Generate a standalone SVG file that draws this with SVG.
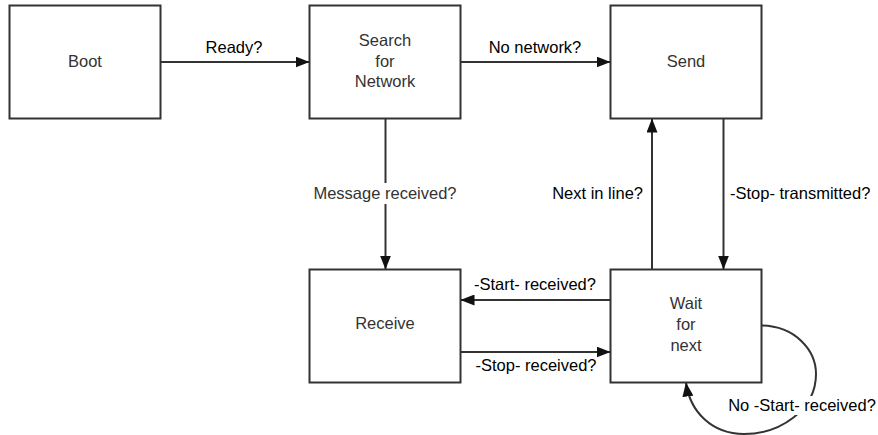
<svg xmlns="http://www.w3.org/2000/svg" width="878" height="435" viewBox="0 0 878 435">
  <style>
    .box { fill: #ffffff; stroke: #333333; stroke-width: 2; }
    .name { font-family: "Liberation Sans", Arial, sans-serif; font-size: 16.5px; fill: #333333; text-anchor: middle; }
    .edge { fill: none; stroke: #333333; stroke-width: 2; }
    .lbl { font-family: "Liberation Sans", Arial, sans-serif; font-size: 16.5px; fill: #000000; }
    .bg { fill: #ffffff; }
  </style>
  <defs>
    <marker id="arrow" markerUnits="userSpaceOnUse" markerWidth="14" markerHeight="11" refX="14" refY="5.5" orient="auto">
      <path d="M0,0 L14,5.5 L0,11 z" fill="#111111"/>
    </marker>
  </defs>
  <rect width="878" height="435" fill="#ffffff"/>

  <!-- state boxes -->
  <g id="boot">
    <rect class="box" x="9.5" y="5.5" width="151" height="113"/>
    <text class="name" x="85" y="67">Boot</text>
  </g>
  <g id="search">
    <rect class="box" x="309.5" y="5.5" width="151" height="113"/>
    <text class="name" x="385" y="46">Search</text>
    <text class="name" x="385" y="66.5">for</text>
    <text class="name" x="385" y="87">Network</text>
  </g>
  <g id="send">
    <rect class="box" x="610.5" y="5.5" width="151" height="113"/>
    <text class="name" x="686" y="67">Send</text>
  </g>
  <g id="receive">
    <rect class="box" x="309.5" y="269.5" width="151" height="113"/>
    <text class="name" x="385" y="329">Receive</text>
  </g>
  <g id="wait">
    <rect class="box" x="610.5" y="269.5" width="151" height="113"/>
    <text class="name" x="686" y="309">Wait</text>
    <text class="name" x="686" y="330">for</text>
    <text class="name" x="686" y="350.5">next</text>
  </g>

  <!-- transitions -->
  <g id="connectors">
    <path class="edge" d="M160.5,62 L309.5,62" marker-end="url(#arrow)"/>
    <text class="lbl" x="234" y="52.5" text-anchor="middle">Ready?</text>

    <path class="edge" d="M460.5,62 L610.5,62" marker-end="url(#arrow)"/>
    <text class="lbl" x="535" y="52.5" text-anchor="middle">No network?</text>

    <path class="edge" d="M385.5,118.5 L385.5,269.5" marker-end="url(#arrow)"/>
    <rect class="bg" x="312" y="183" width="147" height="21"/>
    <text class="lbl" x="385" y="198.5" text-anchor="middle" fill="#333333" style="fill:#333333">Message received?</text>

    <path class="edge" d="M652,269.5 L652,118.5" marker-end="url(#arrow)"/>
    <text class="lbl" x="643" y="198.5" text-anchor="end">Next in line?</text>

    <path class="edge" d="M723.5,118.5 L723.5,269.5" marker-end="url(#arrow)"/>
    <text class="lbl" x="730" y="198.5">-Stop- transmitted?</text>

    <path class="edge" d="M610.5,300 L460.5,300" marker-end="url(#arrow)"/>
    <text class="lbl" x="535" y="290" text-anchor="middle">-Start- received?</text>

    <path class="edge" d="M460.5,352 L610.5,352" marker-end="url(#arrow)"/>
    <text class="lbl" x="536" y="371" text-anchor="middle">-Stop- received?</text>

    <path class="edge" d="M761.5,325.5 C795,326 816,350 816,374 C816,410 780,434 744,434 C712,434 690,412 686,382.5" marker-end="url(#arrow)"/>
    <rect class="bg" x="727" y="396" width="150" height="19"/>
    <text class="lbl" x="802" y="411" text-anchor="middle">No -Start- received?</text>
  </g>
</svg>
